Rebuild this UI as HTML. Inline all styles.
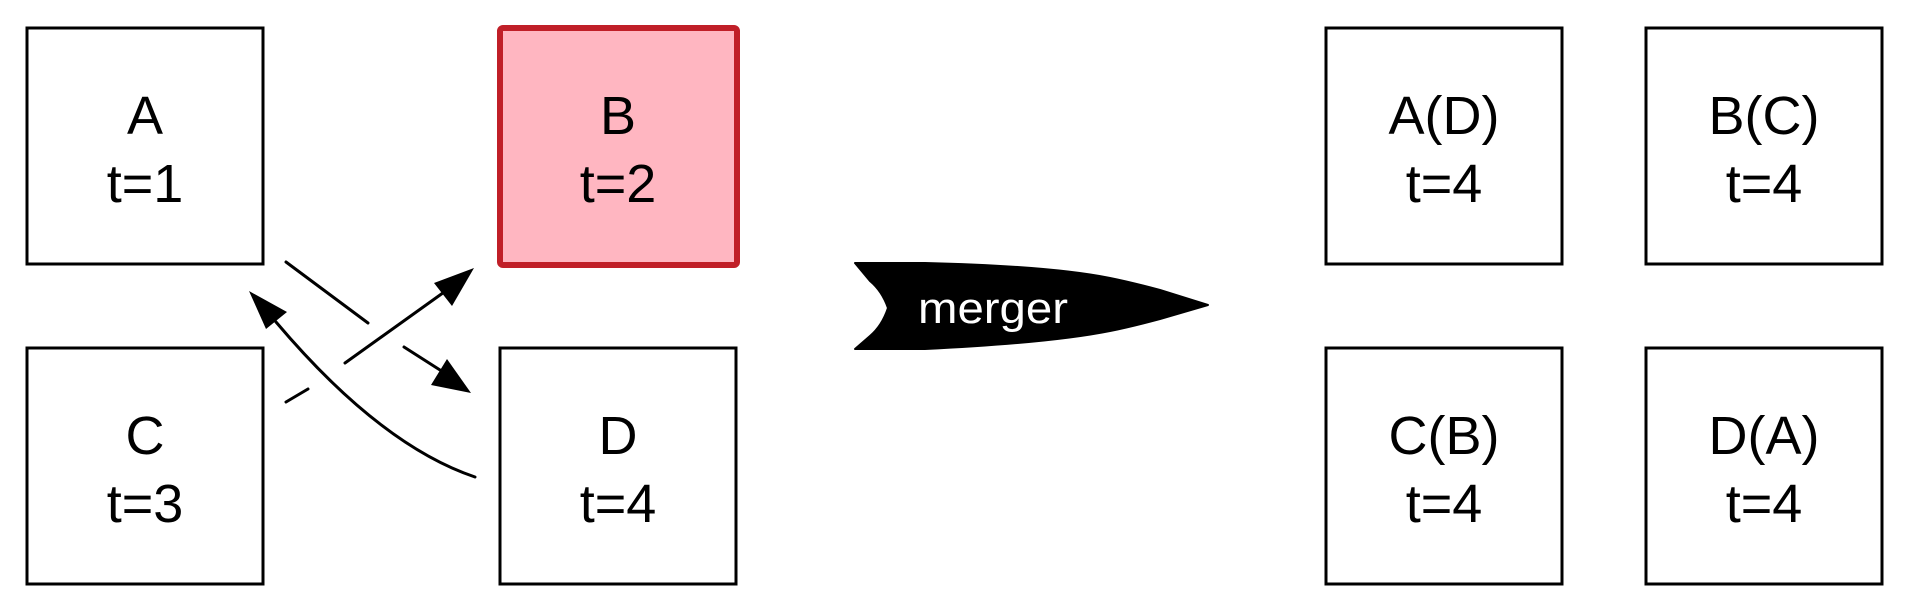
<!DOCTYPE html>
<html><head><meta charset="utf-8"><style>
html,body{margin:0;padding:0;background:#fff;}
svg{display:block;}
text{font-family:"Liberation Sans",sans-serif;}
</style></head><body>
<svg width="1910" height="612" viewBox="0 0 1910 612" xmlns="http://www.w3.org/2000/svg">
<g fill="#fff" stroke="#000" stroke-width="3">
<rect x="27" y="28" width="236" height="236"/>
<rect x="27" y="348" width="236" height="236"/>
<rect x="500" y="348" width="236" height="236"/>
<rect x="1326" y="28" width="236" height="236"/>
<rect x="1646" y="28" width="236" height="236"/>
<rect x="1326" y="348" width="236" height="236"/>
<rect x="1646" y="348" width="236" height="236"/>
</g>
<rect x="500" y="28" width="237" height="237" rx="3" fill="#ffb6c1" stroke="#c01f28" stroke-width="6"/>
<g font-size="54" text-anchor="middle" fill="#000">
<text x="145" y="134">A</text><text x="145" y="202">t=1</text>
<text x="618" y="134">B</text><text x="618" y="202">t=2</text>
<text x="145" y="454">C</text><text x="145" y="522">t=3</text>
<text x="618" y="454">D</text><text x="618" y="522">t=4</text>
<text x="1444" y="134">A(D)</text><text x="1444" y="202">t=4</text>
<text x="1764" y="134">B(C)</text><text x="1764" y="202">t=4</text>
<text x="1444" y="454">C(B)</text><text x="1444" y="522">t=4</text>
<text x="1764" y="454">D(A)</text><text x="1764" y="522">t=4</text>
</g>
<g stroke="#000" stroke-width="3" fill="none" stroke-linecap="round">
<line x1="286" y1="262" x2="368" y2="323"/>
<line x1="345" y1="363" x2="447" y2="290"/>
<line x1="404" y1="347" x2="440" y2="370"/>
<line x1="286" y1="402" x2="308" y2="389"/>
<path d="M475 477 Q380 445 276 322"/>
</g>
<g fill="#000">
<polygon points="474,268 452,306 434,283"/>
<polygon points="471,393 431,385 447,359"/>
<polygon points="249,291 287,312 266,329"/>
</g>
<path d="M855 263 L925 263 Q1050 266 1110 278 Q1130 282 1160 290 L1208 305 L1160 319 Q1130 327 1110 331 Q1050 343 925 349 L855 349 L870 336 Q882 326 888 308 Q882 291 870 281 Z" fill="#000" stroke="#000" stroke-width="2" stroke-linejoin="round"/>
<text x="918" y="323" font-size="44" fill="#fff" textLength="150" lengthAdjust="spacingAndGlyphs">merger</text>
</svg>
</body></html>
